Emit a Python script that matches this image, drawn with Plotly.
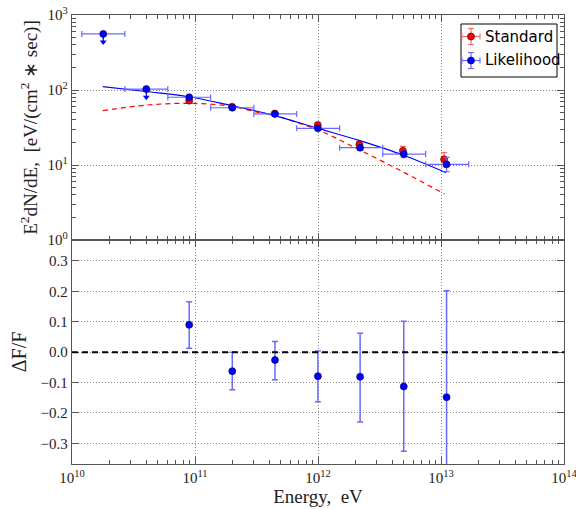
import math
import plotly.graph_objects as go

# ---------------- data ----------------
bin_edges = [1.20e10, 2.69e10, 6.01e10, 1.34e11, 3.01e11, 6.71e11, 1.50e12, 3.36e12, 7.50e12, 1.68e13]

lik_energy = [1.795e10, 4.02e10, 8.97e10, 2.01e11, 4.47e11, 9.98e11, 2.20e12, 4.98e12, 1.11e13]
lik_flux = [560, 103, 80, 58, 48, 30.8, 17.0, 14.0, 10.2]
lik_err_up = [0, 0, 3.0, 2.5, 2.0, 1.8, 1.3, 1.5, 2.4]
lik_err_dn = [0, 0, 3.0, 2.5, 2.0, 1.8, 1.3, 1.5, 2.05]
lik_upper_limit = [True, True, False, False, False, False, False, False, False]

std_energy = [8.97e10, 2.00e11, 4.45e11, 9.95e11, 2.17e12, 4.90e12, 1.06e13]
std_flux = [72, 60, 48.5, 34.2, 18.9, 15.5, 11.9]
std_err_up = [3.0, 2.5, 2.0, 2.0, 1.5, 2.2, 2.7]
std_err_dn = [3.0, 2.5, 2.0, 2.0, 1.5, 2.0, 2.5]

# model curves
lik_model_energy = [1.78e10, 3.98e10, 8.9e10, 2.0e11, 4.07e11, 1.0e12, 2.19e12, 4.9e12, 1.1e13]
lik_model_flux = [110.7, 95.5, 81.3, 61.7, 47.4, 30.8, 21.1, 13.6, 7.9]
std_model_energy = [1.78e10, 4.05e10, 8.9e10, 1.93e11, 3.37e11, 4.07e11, 1.0e12, 2.19e12, 4.9e12, 1.07e13]
std_model_flux = [53, 63, 66.4, 61, 49.8, 47.5, 29.3, 15.8, 8.1, 4.1]

# residuals
res_energy = lik_energy[2:]
res_value = [0.090, -0.0625, -0.026, -0.079, -0.081, -0.113, -0.148]
res_err_up = [0.076, 0.0625, 0.061, 0.083, 0.1435, 0.215, 0.35]
res_err_dn = [0.077, 0.0615, 0.065, 0.084, 0.149, 0.213, 0.35]
res_ref_level = 0.0

top_ticks = [1, 10, 100, 1000]
top_ticktext = ["10<sup>0</sup>", "10<sup>1</sup>", "10<sup>2</sup>", "10<sup>3</sup>"]
x_ticks = [1e10, 1e11, 1e12, 1e13, 1e14]
x_ticktext = ["10<sup>10</sup>", "10<sup>11</sup>", "10<sup>12</sup>", "10<sup>13</sup>", "10<sup>14</sup>"]
res_ticks = [-0.3, -0.2, -0.1, 0.0, 0.1, 0.2, 0.3]
res_ticktext = ["\u22120.3", "\u22120.2", "\u22120.1", "0.0", "0.1", "0.2", "0.3"]

# minor tick positions for log axes
x_minor = [m * 10 ** d for d in range(10, 14) for m in range(2, 10)]
y_minor = [m * 10 ** d for d in range(0, 3) for m in range(2, 10)]

# ---------------- figure ----------------
W, H = 576, 509
ML, MR, MT, MB = 72, 12, 15, 45
PW, PH = W - ML - MR, H - MT - MB
split = 224 / PH

BLUE = "#0000ff"
RED = "#ff0000"
BLUE_EB = "#6a6aff"
RED_EB = "#ff6a6a"
SERIF = "Liberation Serif"
AXC = "#555555"
GRID_DASH = "1px,2px"
UL_SHAFT = 0.78     # arrow shaft end (fraction of the limit value)

fig = go.Figure()

# model lines
fig.add_trace(go.Scatter(x=std_model_energy, y=std_model_flux, mode="lines",
                         line=dict(color=RED, width=1.2, dash="5px,4px", shape="spline"),
                         xaxis="x", yaxis="y", showlegend=False, hoverinfo="skip"))
fig.add_trace(go.Scatter(x=lik_model_energy, y=lik_model_flux, mode="lines",
                         line=dict(color=BLUE, width=1.2, shape="spline"),
                         xaxis="x", yaxis="y", showlegend=False, hoverinfo="skip"))

# standard points
fig.add_trace(go.Scatter(
    x=std_energy, y=std_flux, mode="markers",
    marker=dict(color=RED, size=7, line=dict(color="#400000", width=0.6)),
    error_y=dict(type="data", symmetric=False, array=std_err_up, arrayminus=std_err_dn,
                 color=RED_EB, thickness=1.2, width=3),
    xaxis="x", yaxis="y", showlegend=False))

# upper-limit arrows (shaft + head) derived from the data
ul_x, ul_y, head_x, head_y = [], [], [], []
for e, f, ul in zip(lik_energy, lik_flux, lik_upper_limit):
    if ul:
        ul_x += [e, e, None]
        ul_y += [f, f * UL_SHAFT, None]
        head_x.append(e)
        head_y.append(f * UL_SHAFT)
fig.add_trace(go.Scatter(x=ul_x, y=ul_y, mode="lines", line=dict(color=BLUE, width=1.3),
                         xaxis="x", yaxis="y", showlegend=False, hoverinfo="skip"))
fig.add_trace(go.Scatter(x=head_x, y=head_y, mode="markers",
                         marker=dict(symbol="triangle-down", size=6, color=BLUE, line=dict(width=0)),
                         xaxis="x", yaxis="y", showlegend=False, hoverinfo="skip"))

# likelihood points
fig.add_trace(go.Scatter(
    x=lik_energy, y=lik_flux, mode="markers",
    marker=dict(color=BLUE, size=7, line=dict(color="#000040", width=0.6)),
    error_x=dict(type="data", symmetric=False,
                 array=[h - e for h, e in zip(bin_edges[1:], lik_energy)],
                 arrayminus=[e - l for e, l in zip(lik_energy, bin_edges[:-1])],
                 color=BLUE_EB, thickness=1.2, width=3),
    error_y=dict(type="data", symmetric=False, array=lik_err_up, arrayminus=lik_err_dn,
                 color=BLUE_EB, thickness=1.2, width=3),
    xaxis="x", yaxis="y", showlegend=False))

# residuals
fig.add_shape(type="line", xref="x2 domain", yref="y2", x0=0, x1=1,
              y0=res_ref_level, y1=res_ref_level,
              line=dict(color="black", width=2, dash="6px,4px"))
fig.add_trace(go.Scatter(
    x=res_energy, y=res_value, mode="markers",
    marker=dict(color=BLUE, size=7, line=dict(color="#000040", width=0.6)),
    error_y=dict(type="data", symmetric=False, array=res_err_up, arrayminus=res_err_dn,
                 color=BLUE_EB, thickness=1.5, width=3),
    xaxis="x2", yaxis="y2", showlegend=False))

axis_common = dict(showline=True, linecolor=AXC, linewidth=1.4, mirror="allticks",
                   ticks="inside", ticklen=7, tickcolor=AXC, tickwidth=1,
                   showgrid=True, gridcolor="#888888", griddash=GRID_DASH, gridwidth=1,
                   zeroline=False, automargin=False, ticklabeloverflow="allow",
                   tickfont=dict(family=SERIF, size=15, color="#222222"))

def log_minor(vals):
    return dict(tickvals=vals, ticks="inside", ticklen=4, tickcolor=AXC, tickwidth=1,
                showgrid=False)

fig.update_layout(
    width=W, height=H,
    margin=dict(l=ML, r=MR, t=MT, b=MB),
    paper_bgcolor="white", plot_bgcolor="white",
    showlegend=False,
    xaxis=dict(type="log", range=[10, 14], domain=[0, 1], anchor="y",
               tickvals=x_ticks, ticktext=x_ticktext, showticklabels=False,
               minor=log_minor(x_minor), matches="x2", **axis_common),
    yaxis=dict(type="log", range=[0, 3], domain=[split, 1], anchor="x",
               tickvals=top_ticks, ticktext=top_ticktext, minor=log_minor(y_minor),
               title=dict(text="E<sup>2</sup>dN/dE,  [eV/(cm<sup>2</sup> \u2217 sec)]",
                          font=dict(family=SERIF, size=19, color="#222222"), standoff=4),
               **axis_common),
    xaxis2=dict(type="log", range=[10, 14], domain=[0, 1], anchor="y2",
                tickvals=x_ticks, ticktext=x_ticktext, minor=log_minor(x_minor),
                title=dict(text="Energy,  eV", font=dict(family=SERIF, size=19, color="#222222"),
                           standoff=4),
                **axis_common),
    yaxis2=dict(range=[-0.368, 0.369], domain=[0, split], anchor="x2",
                tickvals=res_ticks, ticktext=res_ticktext,
                title=dict(text="\u0394F/F", font=dict(family=SERIF, size=20, color="#222222"),
                           standoff=8),
                **axis_common),
)

# custom legend (matplotlib style)
def px2paper(px, py):
    return (px - ML) / PW, (H - MB - py) / PH

bx0, by0 = px2paper(461, 77)
bx1, by1 = px2paper(557, 24)
fig.add_shape(type="rect", xref="paper", yref="paper", x0=bx0, y0=by0, x1=bx1, y1=by1,
              line=dict(color="black", width=1), fillcolor="white", layer="above")
legend_items = [("Standard", RED, RED_EB, 36.5), ("Likelihood", BLUE, BLUE_EB, 60.5)]
for name, col, ecol, py in legend_items:
    cx, cy = px2paper(471, py)
    seg = [(-9, 0, 9, 0), (0, -8, 0, 8), (-9, -3, -9, 3), (9, -3, 9, 3), (-3, -8, 3, -8), (-3, 8, 3, 8)]
    for x0, y0, x1, y1 in seg:
        fig.add_shape(type="line", xref="paper", yref="paper", xsizemode="pixel", ysizemode="pixel",
                      xanchor=cx, yanchor=cy, x0=x0, x1=x1, y0=y0, y1=y1,
                      line=dict(color=ecol, width=1.2), layer="above")
    fig.add_shape(type="circle", xref="paper", yref="paper", xsizemode="pixel", ysizemode="pixel",
                  xanchor=cx, yanchor=cy, x0=-3.5, x1=3.5, y0=-3.5, y1=3.5,
                  fillcolor=col, line=dict(color="#000030", width=0.6), layer="above")
    tx, ty = px2paper(483, py)
    fig.add_annotation(x=tx, y=ty, xref="paper", yref="paper", text=name, showarrow=False,
                       xanchor="left", yanchor="middle",
                       font=dict(family="DejaVu Sans", size=15, color="black"))

fig.write_html("out.html", config={"displayModeBar": False},
               post_script="document.body.style.margin='0px';document.body.style.overflow='hidden';")
